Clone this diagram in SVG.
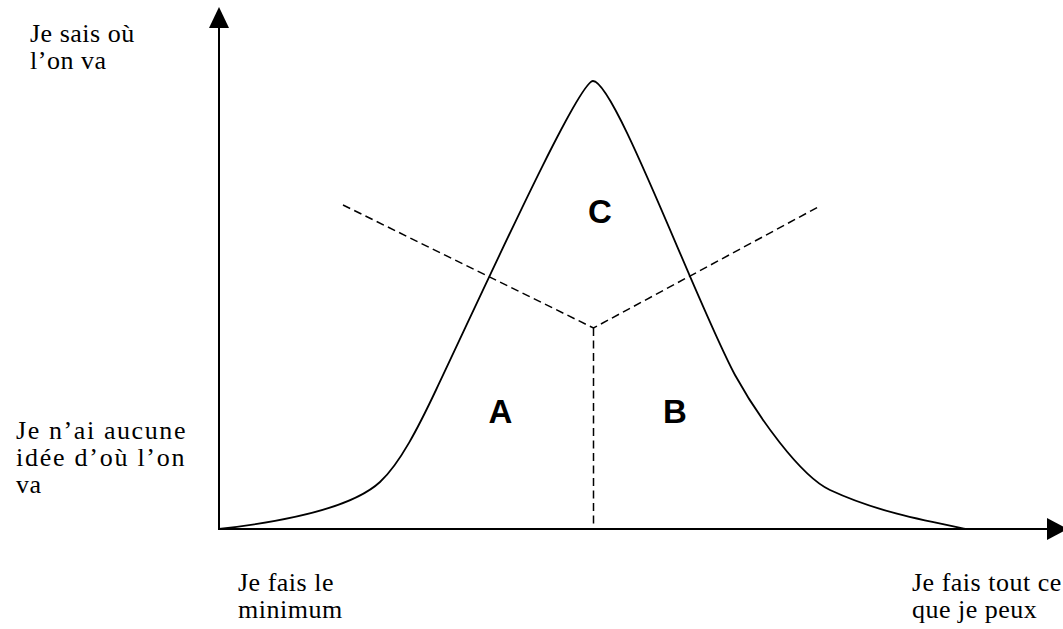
<svg xmlns="http://www.w3.org/2000/svg" width="1063" height="629" viewBox="0 0 1063 629">
<style>
.lbl{font-family:"Liberation Serif","Times New Roman",serif;font-size:26px;letter-spacing:0.5px;fill:#000}
.zone{font-family:"Liberation Sans",Arial,sans-serif;font-size:33px;font-weight:bold;fill:#000;text-anchor:middle}
.axis{stroke:#000;stroke-width:2;fill:none}
.curve{stroke:#000;stroke-width:1.8;fill:none;stroke-linejoin:round}
.dash{stroke:#000;stroke-width:1.5;fill:none;stroke-dasharray:8,4.5}
</style>
<rect width="1063" height="629" fill="#fff"/>
<g id="connectors">
<line class="axis" x1="219" y1="529" x2="219" y2="25"/>
<polygon points="219,7 209,28 229,28" fill="#000"/>
<line class="axis" x1="218" y1="529" x2="1050" y2="529"/>
<polygon points="1068,529 1047,518 1047,540" fill="#000"/>
<path class="curve" d="M219,529 C289,521 352,507.8 380,482 C400,463.6 419,426 436,390 C481,295.5 578,81 593,81 C615,81 695,300 735,375 C757,415 800,476 830,490 C875,511 921,520 966,529"/>
<path class="dash" d="M343,205 L593.5,328 L820,206"/>
<line class="dash" x1="593.5" y1="328" x2="593.5" y2="529"/>
</g>
<g id="zoneC"><text class="zone" x="600" y="223">C</text></g>
<g id="zoneA"><text class="zone" x="500.5" y="423">A</text></g>
<g id="zoneB"><text class="zone" x="675" y="423">B</text></g>
<g id="labelTop"><text class="lbl" x="30" y="42">Je sais où</text><text class="lbl" x="30" y="69">l’on va</text></g>
<g id="labelLeft"><text class="lbl" x="16" y="439" textLength="170" lengthAdjust="spacing">Je n’ai aucune</text><text class="lbl" x="16" y="466" textLength="169" lengthAdjust="spacing">idée d’où l’on</text><text class="lbl" x="16" y="493">va</text></g>
<g id="labelMin"><text class="lbl" x="238" y="591">Je fais le</text><text class="lbl" x="238" y="618">minimum</text></g>
<g id="labelMax"><text class="lbl" x="912" y="591">Je fais tout ce</text><text class="lbl" x="912" y="618">que je peux</text></g>
</svg>
